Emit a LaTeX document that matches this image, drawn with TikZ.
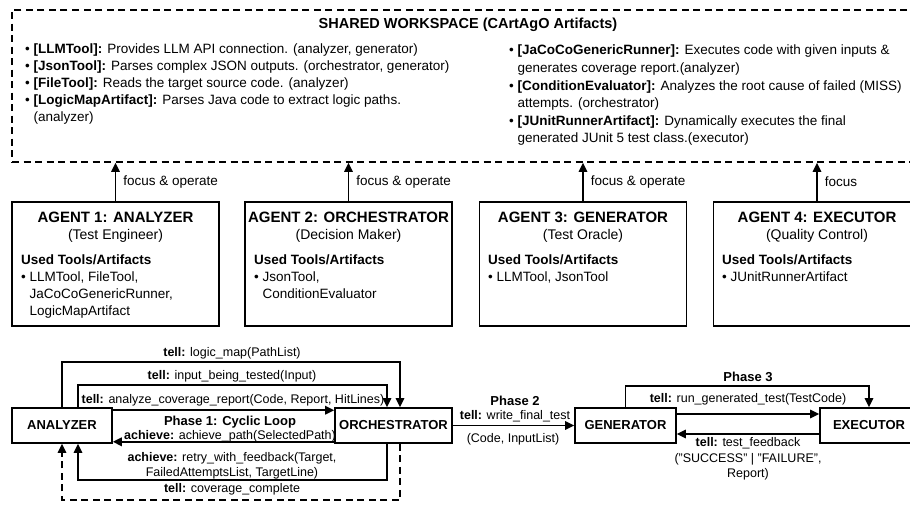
\documentclass[tikz,border=0pt]{standalone}
\usepackage{fontspec}
\setmainfont{Liberation Sans}
\usetikzlibrary{arrows.meta,positioning}

\tikzset{
  agentbox/.style={draw, line width=1.6pt, minimum width=207pt, minimum height=124pt, inner sep=0pt},
  msgbox/.style={draw, line width=1.6pt, minimum height=35pt, inner sep=0pt,
    font=\bfseries\fontsize{13}{15}\selectfont},
  flow/.style={-{Triangle[length=9pt,width=8.5pt]}, line width=1.6pt},
  wsdash/.style={dash pattern=on 7pt off 4.5pt},
  lbl/.style={inner sep=0pt, align=center, font=\fontsize{12.5}{14.5}\selectfont},
  toollist/.style={anchor=north west, inner sep=0pt, align=left, font=\fontsize{13.5}{17}\selectfont},
}

\begin{document}
\begin{tikzpicture}[x=1pt,y=-1pt]
    \useasboundingbox (0,0) rectangle (910,504);
    \clip (0,0) rectangle (910,504);

    % shared workspace
    \node[draw, wsdash, line width=1.6pt, minimum width=912pt, minimum height=152pt] (ws) at (468,86) {};
    \node[inner sep=0pt, font=\bfseries\fontsize{14.5}{17}\selectfont] (wstitle) at (468,25)
        {SHARED WORKSPACE (CArtAgO Artifacts)};
    \node[toollist] (wsleft) at (25,44)
        {• \textbf{[LLMTool]:} Provides LLM API connection. (analyzer, generator)\\
         • \textbf{[JsonTool]:} Parses complex JSON outputs. (orchestrator, generator)\\
         • \textbf{[FileTool]:} Reads the target source code. (analyzer)\\
         • \textbf{[LogicMapArtifact]:} Parses Java code to extract logic paths.\\
         \hphantom{• }(analyzer)};
    \node[toollist, font=\fontsize{13.5}{17.6}\selectfont] (wsright) at (509,45)
        {• \textbf{[JaCoCoGenericRunner]:} Executes code with given inputs \&\\
         \hphantom{• }generates coverage report.(analyzer)\\
         • \textbf{[ConditionEvaluator]:} Analyzes the root cause of failed (MISS)\\
         \hphantom{• }attempts. (orchestrator)\\
         • \textbf{[JUnitRunnerArtifact]:} Dynamically executes the final\\
         \hphantom{• }generated JUnit 5 test class.(executor)};

    % agents
    \node[agentbox] (a1) at (115.5,264) {};
    \node[agentbox] (a2) at (348.5,264) {};
    \node[agentbox] (a3) at (583,264) {};
    \node[agentbox] (a4) at (817,264) {};
    \begin{scope}[every node/.style={inner sep=0pt, align=center, font=\fontsize{14}{17}\selectfont}]
        \node (a1name) at (115.5,227) {\textbf{\fontsize{15}{17}\selectfont AGENT 1: ANALYZER}\\(Test Engineer)};
        \node (a2name) at (348.5,227) {\textbf{\fontsize{15}{17}\selectfont AGENT 2: ORCHESTRATOR}\\(Decision Maker)};
        \node (a3name) at (583,227) {\textbf{\fontsize{15}{17}\selectfont AGENT 3: GENERATOR}\\(Test Oracle)};
        \node (a4name) at (817,227) {\textbf{\fontsize{15}{17}\selectfont AGENT 4: EXECUTOR}\\(Quality Control)};
    \end{scope}
    \node[toollist] (a1tools) at (21,255) {\textbf{Used Tools/Artifacts}\\• LLMTool, FileTool,\\
        \hphantom{• }JaCoCoGenericRunner,\\\hphantom{• }LogicMapArtifact};
    \node[toollist] (a2tools) at (254,255) {\textbf{Used Tools/Artifacts}\\• JsonTool,\\\hphantom{• }ConditionEvaluator};
    \node[toollist] (a3tools) at (488,255) {\textbf{Used Tools/Artifacts}\\• LLMTool, JsonTool};
    \node[toollist] (a4tools) at (722,255) {\textbf{Used Tools/Artifacts}\\• JUnitRunnerArtifact};

    \begin{scope}[every node/.style={inner sep=0pt, right=7pt, font=\fontsize{13.5}{16}\selectfont}]
        \draw[flow] (a1.north) -- (a1.north |- ws.south) node[midway] (f1) {focus \& operate};
        \draw[flow] (a2.north) -- (a2.north |- ws.south) node[midway] (f2) {focus \& operate};
        \draw[flow] (a3.north) -- (a3.north |- ws.south) node[midway] (f3) {focus \& operate};
        \draw[flow] (a4.north) -- (a4.north |- ws.south) node[midway] (f4) {focus};
    \end{scope}

    % message flow
    \node[msgbox, minimum width=100pt] (an) at (62,425.5) {ANALYZER};
    \node[msgbox, minimum width=117pt] (orch) at (393.5,425.5) {ORCHESTRATOR};
    \node[msgbox, minimum width=101pt] (gen) at (625.5,425.5) {GENERATOR};
    \node[msgbox, minimum width=98pt] (exe) at (869,425.5) {EXECUTOR};

    % phase 1
    \draw[flow] (an.north) -- ++(0,-45) -| ([xshift=6.5pt]orch.north);
    \draw[flow] ([xshift=16pt]an.north) -- ++(0,-22) -| ([xshift=-6.5pt]orch.north);
    \draw[flow] ([yshift=-3pt]an.north east) -- ([yshift=-3pt]orch.north west);
    \draw[flow] ([yshift=2pt]orch.south west) -- ([yshift=2pt]an.south east);
    \draw[flow] ([xshift=-6.5pt]orch.south) -- ++(0,36) -| ([xshift=16pt]an.south);
    \draw[flow, wsdash] ([xshift=6.5pt]orch.south) -- ++(0,56) -| (an.south);
    \node[lbl] (m1) at (232,353) {\textbf{tell:} logic\_map(PathList)};
    \node[lbl] (m2) at (232,376) {\textbf{tell:} input\_being\_tested(Input)};
    \node[lbl] (m3) at (233,400) {\textbf{tell:} analyze\_coverage\_report(Code, Report, HitLines)};
    \node[lbl] (m4) at (230,429) {\textbf{\fontsize{13}{14.5}\selectfont Phase 1: Cyclic Loop}\\\textbf{achieve:} achieve\_path(SelectedPath)};
    \node[lbl] (m5) at (232,466) {\textbf{achieve:} retry\_with\_feedback(Target,\\FailedAttemptsList, TargetLine)};
    \node[lbl] (m6) at (232,489) {\textbf{tell:} coverage\_complete};

    % phase 2
    \draw[flow] (orch) -- (gen);
    \node[lbl] (p2) at (515,409) {\textbf{\fontsize{13}{14.5}\selectfont Phase 2}\\\textbf{tell:} write\_final\_test};
    \node[lbl] (p2b) at (513,439) {(Code, InputList)};

    % phase 3
    \draw[flow] (gen.north) -- ++(0,-21) -| (exe.north);
    \draw[flow] ([yshift=11.5pt]gen.east) -- ([yshift=11.5pt]exe.west);
    \draw[flow] ([yshift=-8.5pt]exe.west) -- ([yshift=-8.5pt]gen.east);
    \node[lbl, font=\bfseries\fontsize{13}{15}\selectfont] (p3) at (748,377) {Phase 3};
    \node[lbl] (m7) at (748,399) {\textbf{tell:} run\_generated\_test(TestCode)};
    \node[lbl, font=\fontsize{12.5}{15.5}\selectfont] (m8) at (748,459) {\textbf{tell:} test\_feedback\\("SUCCESS" | "FAILURE",\\Report)};
\end{tikzpicture}
\end{document}
